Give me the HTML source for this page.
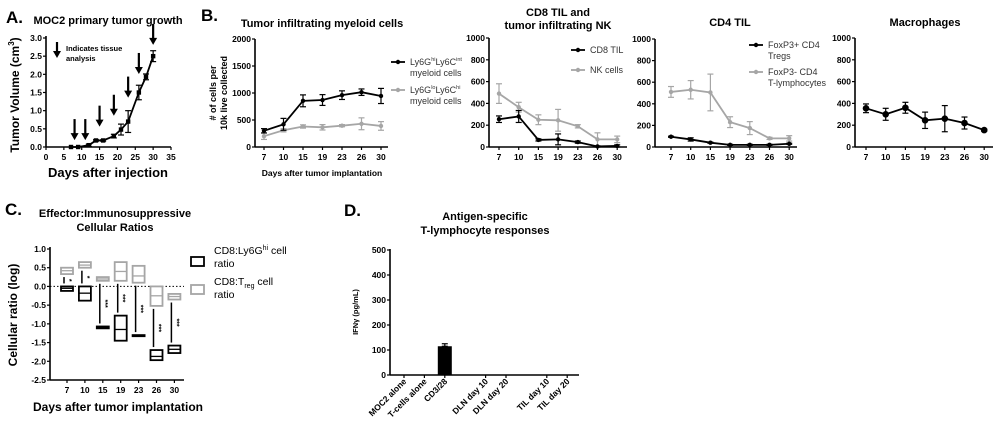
<!DOCTYPE html>
<html><head><meta charset="utf-8"><style>
body{margin:0;background:#fff;}
svg{display:block;font-family:"Liberation Sans",Arial,sans-serif;}
text{fill:#000;}
.t{font-weight:bold;font-size:11px;}
.tk{font-weight:bold;font-size:8.5px;}
.pl{font-weight:bold;font-size:17px;}
</style></head><body>
<svg id="fig" width="1000" height="439" viewBox="0 0 1000 439" xmlns="http://www.w3.org/2000/svg">
<text class="pl" x="6" y="23">A.</text>
<text class="t" x="108" y="24" text-anchor="middle">MOC2 primary tumor growth</text>
<text x="108" y="177" text-anchor="middle" font-weight="bold" font-size="13">Days after injection</text>
<text transform="translate(19,95) rotate(-90)" text-anchor="middle" font-weight="bold" font-size="12">Tumor Volume (cm<tspan font-size="8" dy="-5">3</tspan><tspan dy="5">)</tspan></text>
<text x="66" y="51" font-weight="bold" font-size="7.5"><tspan x="66">Indicates tissue</tspan><tspan x="66" dy="10">analysis</tspan></text>

<text class="pl" x="201" y="21">B.</text>
<text class="t" x="322" y="27" text-anchor="middle">Tumor infiltrating myeloid cells</text>
<text x="322" y="176" text-anchor="middle" font-weight="bold" font-size="8.5">Days after tumor implantation</text>
<text transform="translate(222,93) rotate(-90)" text-anchor="middle" font-weight="bold" font-size="9"><tspan x="0" dy="-6">#  of cells per</tspan><tspan x="0" dy="11">10k live collected</tspan></text>
<text class="t" x="558" y="16" text-anchor="middle"><tspan x="558">CD8 TIL and</tspan><tspan x="558" dy="13">tumor infiltrating NK</tspan></text>
<text class="t" x="730" y="26" text-anchor="middle">CD4 TIL</text>
<text class="t" x="925" y="26" text-anchor="middle">Macrophages</text>

<text class="pl" x="5" y="215">C.</text>
<text class="t" x="115" y="217" text-anchor="middle"><tspan x="115">Effector:Immunosuppressive</tspan><tspan x="115" dy="14">Cellular Ratios</tspan></text>
<text x="118" y="411" text-anchor="middle" font-weight="bold" font-size="12">Days after tumor implantation</text>
<text transform="translate(17,315) rotate(-90)" text-anchor="middle" font-weight="bold" font-size="12">Cellular ratio (log)</text>

<text class="pl" x="344" y="216">D.</text>
<text class="t" x="485" y="220" text-anchor="middle"><tspan x="485">Antigen-specific</tspan><tspan x="485" dy="14">T-lymphocyte responses</tspan></text>
<text transform="translate(358,312) rotate(-90)" text-anchor="middle" font-weight="bold" font-size="7.5">IFNγ (pg/mL)</text>
</svg>
<script>
const NS="http://www.w3.org/2000/svg";const svg=document.getElementById('fig');
function mk(tag,a,parent){const e=document.createElementNS(NS,tag);for(const k in a)e.setAttribute(k,a[k]);(parent||svg).appendChild(e);return e;}
// ---- Panel A data
const aDays=[7,9,12,14,16,19,21,23,26,28,30];
const aVol=[0,0,0.05,0.18,0.18,0.3,0.48,0.7,1.5,1.93,2.5];
const aErr=[0,0,0.03,0.02,0.02,0.05,0.15,0.3,0.2,0.08,0.15];
const aArrows=[8,11,15,19,23,26,30];
const aArrowTip=[0.08,0.08,0.45,0.75,1.25,1.9,2.7];
const aXTicks=[0,5,10,15,20,25,30,35];
const aYTicks=[0,0.5,1,1.5,2,2.5,3];
// ---- Panel B data
const bDays=["7","10","15","19","23","26","30"];
const b1Black=[300,420,855,870,960,1015,945];
const b1BlackErr=[40,110,110,100,80,60,140];
const b1Gray=[200,310,380,365,395,430,390];
const b1GrayErr=[60,30,30,50,20,110,80];
const b2CD8=[255,280,65,70,45,5,10];
const b2CD8Err=[30,55,10,50,10,5,10];
const b2NK=[490,365,250,245,190,70,70];
const b2NKErr=[90,45,45,100,15,60,30];
const b3Treg=[95,70,40,20,20,20,30];
const b3TregErr=[5,15,5,5,5,5,5];
const b3Neg=[510,530,505,230,175,80,80];
const b3NegErr=[50,85,170,50,60,10,25];
const b4Mac=[355,300,360,245,260,220,155];
const b4MacErr=[40,55,50,75,120,55,10];
// ---- Panel C data
const cDays=["7","10","15","19","23","26","30"];
const cBlackLo=[-0.12,-0.38,-1.12,-1.45,-1.33,-1.97,-1.78];
const cBlackHi=[0,0,-1.07,-0.78,-1.30,-1.70,-1.58];
const cBlackMean=[-0.05,-0.18,-1.10,-1.15,-1.31,-1.87,-1.68];
const cGrayLo=[0.33,0.5,0.15,0.15,0.1,-0.52,-0.35];
const cGrayHi=[0.5,0.65,0.25,0.65,0.55,0,-0.2];
const cGrayMean=[0.42,0.57,0.2,0.4,0.28,-0.25,-0.27];
const cStars=["*","*","***","***","***","***","***"];
const cYTicks=[1,0.5,0,-0.5,-1,-1.5,-2,-2.5];
// ---- Panel D data
const dCats=["MOC2 alone","T-cells alone","CD3/28","DLN day 10","DLN day 20","TIL day 10","TIL day 20"];
const dSlots=[0,1,2,4,5,7,8];
const dVals=[0,0,115,0,0,0,0];
const dErr=[0,0,10,0,0,0,0];
const dYTicks=[0,100,200,300,400,500];

function lin(d0,d1,r0,r1){return v=>r0+(v-d0)*(r1-r0)/(d1-d0);}
function axes(x0,x1,y0,y1,name){
  mk('line',{x1:x0,y1:y0,x2:x0,y2:y1,stroke:'#000','stroke-width':1.6});
  mk('line',{x1:x0,y1:y1,x2:x1,y2:y1,stroke:'#000','stroke-width':1.6});
}
function ytick(x0,y,label,name){
  mk('line',{x1:x0-3,y1:y,x2:x0,y2:y,stroke:'#000','stroke-width':1.2});
  const t=mk('text',{x:x0-4,y:y+3,'text-anchor':'end',class:'tk'});t.textContent=label;
  
}
function xtick(x,y1,label,name){
  mk('line',{x1:x,y1:y1,x2:x,y2:y1+3,stroke:'#000','stroke-width':1.2});
  const t=mk('text',{x:x,y:y1+13,'text-anchor':'middle',class:'tk'});t.textContent=label;
  
}
function errbar(x,y1,y2,col,name){
  const g=mk('g',{stroke:col,'stroke-width':1.2});
  
  mk('line',{x1:x,y1:y1,x2:x,y2:y2},g);mk('line',{x1:x-3,y1:y1,x2:x+3,y2:y1},g);mk('line',{x1:x-3,y1:y2,x2:x+3,y2:y2},g);
}
function series(xs,vals,errs,ys,col,r,name,square){
  let d='';vals.forEach((v,i)=>{d+=(i?'L':'M')+xs[i]+','+ys(v);});
  const p=mk('path',{d:d,fill:'none',stroke:col,'stroke-width':1.8});
  
  vals.forEach((v,i)=>{
    if(errs[i])errbar(xs[i],ys(v-errs[i]),ys(v+errs[i]),col,name+'-error-bar');
    const m=square?mk('rect',{x:xs[i]-r,y:ys(v)-r,width:2*r,height:2*r,fill:col}):mk('circle',{cx:xs[i],cy:ys(v),r:r,fill:col});
    
  });
}
// ---- Panel A draw
(function(){
  const X=lin(0,35,46,171),Y=lin(0,3,147,38);
  axes(46,171,36,147,'a');
  aYTicks.forEach(v=>ytick(46,Y(v),v.toFixed(1),'a'));
  aXTicks.forEach(v=>xtick(X(v),147,String(v),'a'));
  series(aDays.map(X),aVol,aErr,Y,'#000',2.2,'a-tumor',true);
  aArrows.forEach((d,i)=>{
    const yb=Y(aArrowTip[i])-4,x=X(d);
    const g=mk('g',{});
    mk('line',{x1:x,y1:yb-21,x2:x,y2:yb-5,stroke:'#000','stroke-width':2.2},g);
    mk('polygon',{points:`${x-4},${yb-7} ${x+4},${yb-7} ${x},${yb}`,fill:'#000'},g);
  });
  const g=mk('g',{});
  mk('line',{x1:57,y1:42,x2:57,y2:53,stroke:'#000','stroke-width':2.2},g);
  mk('polygon',{points:'53,51 61,51 57,58',fill:'#000'},g);
})();
// ---- Panel B helper
function bPanel(x0,x1,xFirst,step,yTop,max,ticks,sets,name){
  const Y=lin(0,max,147,yTop);
  axes(x0,x1,yTop,147,name);
  ticks.forEach(v=>ytick(x0,Y(v),String(v),name));
  const xs=bDays.map((d,i)=>xFirst+i*step);
  bDays.forEach((d,i)=>xtick(xs[i],147,d,name));
  sets.forEach(s=>series(xs,s.v,s.e,Y,s.c,s.r||2.2,name+'-'+s.n,false));
}
bPanel(255,388,264,19.5,39,2000,[0,500,1000,1500,2000],[{v:b1Gray,e:b1GrayErr,c:'#a6a6a6',n:'ly6g-lo'},{v:b1Black,e:b1BlackErr,c:'#000',n:'ly6g-hi'}],'b1');
bPanel(489,627,499,19.7,38,1000,[0,200,400,600,800,1000],[{v:b2NK,e:b2NKErr,c:'#a6a6a6',n:'nk'},{v:b2CD8,e:b2CD8Err,c:'#000',n:'cd8'}],'b2');
bPanel(655,797,671,19.7,39,1000,[0,200,400,600,800,1000],[{v:b3Neg,e:b3NegErr,c:'#a6a6a6',n:'foxp3-neg'},{v:b3Treg,e:b3TregErr,c:'#000',n:'treg'}],'b3');
bPanel(855,993,866,19.7,38,1000,[0,200,400,600,800,1000],[{v:b4Mac,e:b4MacErr,c:'#000',n:'macrophage',r:3.3}],'b4');
function legend(x,y,col,lines,name){
  const g=mk('g',{});
  mk('line',{x1:x,y1:y,x2:x+14,y2:y,stroke:col,'stroke-width':1.8},g);
  mk('circle',{cx:x+7,cy:y,r:2.2,fill:col},g);
  lines.forEach((l,i)=>{const t=mk('text',{x:x+19,y:y+3+i*11,'font-size':9},g);t.style.fill='#333';t.innerHTML=l;});
}
legend(391,62,'#000',['Ly6G<tspan font-size="5.5" dy="-4">hi</tspan><tspan dy="4">Ly6C</tspan><tspan font-size="5.5" dy="-4">int</tspan>','myeloid cells'],'legend-ly6g-hi');
legend(391,90,'#a6a6a6',['Ly6G<tspan font-size="5.5" dy="-4">lo</tspan><tspan dy="4">Ly6C</tspan><tspan font-size="5.5" dy="-4">hi</tspan>','myeloid cells'],'legend-ly6g-lo');
legend(571,50,'#000',['CD8 TIL'],'legend-cd8');
legend(571,70,'#a6a6a6',['NK cells'],'legend-nk');
legend(749,45,'#000',['FoxP3+ CD4','Tregs'],'legend-treg');
legend(749,72,'#a6a6a6',['FoxP3- CD4','T-lymphocytes'],'legend-foxp3-neg');
// ---- Panel C
(function(){
  const Y=lin(1,-2.5,249,380);
  axes(50,184,247,380,'c');
  cYTicks.forEach(v=>ytick(50,Y(v),v.toFixed(1),'c'));
  const xs=cDays.map((d,i)=>67+i*17.9);
  cDays.forEach((d,i)=>xtick(xs[i],380,d,'c'));
  mk('line',{x1:50,y1:Y(0),x2:184,y2:Y(0),stroke:'#000','stroke-width':1,'stroke-dasharray':'1.5,2'});
  function boxes(lo,hi,mean,col,name){
    lo.forEach((l,i)=>{
      const r=mk('rect',{x:xs[i]-6,y:Y(hi[i]),width:12,height:Math.max(1,Y(l)-Y(hi[i])),fill:'none',stroke:col,'stroke-width':1.8});
      
      mk('line',{x1:xs[i]-6,y1:Y(mean[i]),x2:xs[i]+6,y2:Y(mean[i]),stroke:col,'stroke-width':1.3});
    });
  }
  boxes(cGrayLo,cGrayHi,cGrayMean,'#a6a6a6','c-cd8-treg');
  boxes(cBlackLo,cBlackHi,cBlackMean,'#000','c-cd8-ly6g');
  cStars.forEach((s,i)=>{
    const yt=Y(cGrayLo[i])+3,yb=Y(cBlackHi[i])-3,x=xs[i]-3;
    mk('line',{x1:x,y1:yt,x2:x,y2:yb,stroke:'#000','stroke-width':1.5});
    const t=mk('text',{transform:`translate(${x+3},${(yt+yb)/2}) rotate(90)`,'text-anchor':'middle','font-size':7,'font-weight':'bold'});
    t.textContent=s;
    
  });
  const l1=mk('rect',{x:191,y:257,width:13,height:9,fill:'none',stroke:'#000','stroke-width':1.8});
  
  const l2=mk('rect',{x:191,y:285,width:13,height:9,fill:'none',stroke:'#a6a6a6','stroke-width':1.8});
  
  const t1=mk('text',{x:214,y:254,'font-size':10.5});
  t1.innerHTML='CD8:Ly6G<tspan font-size="7" dy="-4">hi</tspan><tspan dy="4"> cell</tspan>';
  
  const t1b=mk('text',{x:214,y:267,'font-size':10.5});t1b.textContent='ratio';
  
  const t2=mk('text',{x:214,y:285,'font-size':10.5});
  t2.innerHTML='CD8:T<tspan font-size="7" dy="3">reg</tspan><tspan dy="-3"> cell</tspan>';
  
  const t2b=mk('text',{x:214,y:298,'font-size':10.5});t2b.textContent='ratio';
  
})();
// ---- Panel D
(function(){
  const Y=lin(0,500,375,250);
  axes(390,579,249,375,'d');
  dYTicks.forEach(v=>ytick(390,Y(v),String(v),'d'));
  dCats.forEach((c,i)=>{
    const x=404+dSlots[i]*20.4;
    mk('line',{x1:x,y1:375,x2:x,y2:378,stroke:'#000','stroke-width':1.2});
    const t=mk('text',{transform:`translate(${x+3},${382}) rotate(-45)`,'text-anchor':'end',class:'tk','font-size':9});
    t.textContent=c;
    
    if(dVals[i]>0){
      errbar(x,Y(dVals[i]+dErr[i]),Y(dVals[i]),'#000','d-error-bar');
      const r=mk('rect',{x:x-7,y:Y(dVals[i]),width:14,height:375-Y(dVals[i]),fill:'#000'});
      
    }
  });
})();
</script>
</body></html>
